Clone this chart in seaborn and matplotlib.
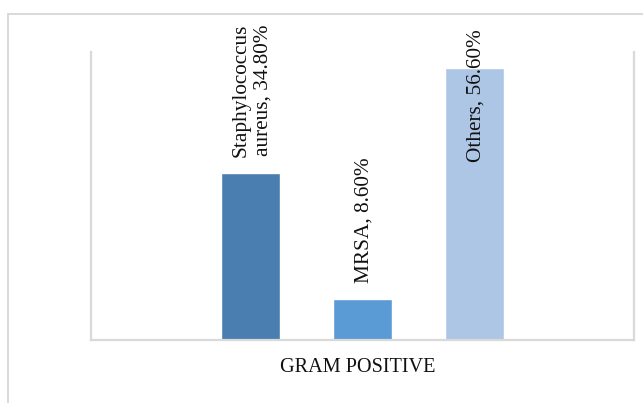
import matplotlib
matplotlib.use("Agg")
import matplotlib.pyplot as plt
from matplotlib.patches import Rectangle
import seaborn as sns
import pandas as pd

# Gram-positive isolates, share of cases (%)
organisms = ["Staphylococcus aureus", "MRSA", "Others"]
percents = [34.8, 8.6, 56.6]
label_names = ["Staphylococcus\naureus", "MRSA", "Others"]
group_label = "GRAM POSITIVE"

bar_colors = ["#4a7eb0", "#5b9bd5", "#adc6e6"]
grid_gray = "#d9d9d9"

sns.set_theme(style="white")
plt.rcParams["font.family"] = ["Liberation Serif", "DejaVu Serif"]

W, H = 643, 403
fig = plt.figure(figsize=(W / 100, H / 100), dpi=100)
ax = fig.add_axes([91 / W, (H - 340) / H, 543 / W, 288 / H])

df = pd.DataFrame({"organism": organisms, "percent": percents})
sns.barplot(data=df, x="organism", y="percent", hue="organism",
            palette=bar_colors, order=organisms, hue_order=organisms,
            width=0.527, saturation=1, legend=False, ax=ax)

ax.set_ylim(0, 60)
ax.set_xlim(1 - 2.424, 1 + 2.424)
ax.set_xticks([])
ax.set_yticks([])
ax.set_xlabel("")
ax.set_ylabel("")
for side in ("left", "bottom", "right"):
    ax.spines[side].set_visible(True)
    ax.spines[side].set_color(grid_gray)
    ax.spines[side].set_linewidth(1.6)
ax.spines["top"].set_visible(False)

# rotated data labels (offset in points from the bar top)
offsets = [11.5, 11.5, -67.5]
for i, (name, val, off) in enumerate(zip(label_names, percents, offsets)):
    ax.annotate(f"{name}, {val:.2f}%", xy=(i, val), xytext=(1, off),
                textcoords="offset points", rotation=90,
                ha="center", va="bottom", multialignment="center",
                fontsize=15.3, linespacing=1.2, color="#111111",
                annotation_clip=False)

fig.text(358 / W, 1 - 368 / H, group_label, ha="center", va="center",
         fontsize=14.6, color="#111111")

# chart-area frame
fig.add_artist(Rectangle((8 / W, -0.1), 1.2, (H - 13.5) / H + 0.1,
                         transform=fig.transFigure, fill=False,
                         ec=grid_gray, lw=1.4, clip_on=False))

fig.savefig("out.png", dpi=100)
